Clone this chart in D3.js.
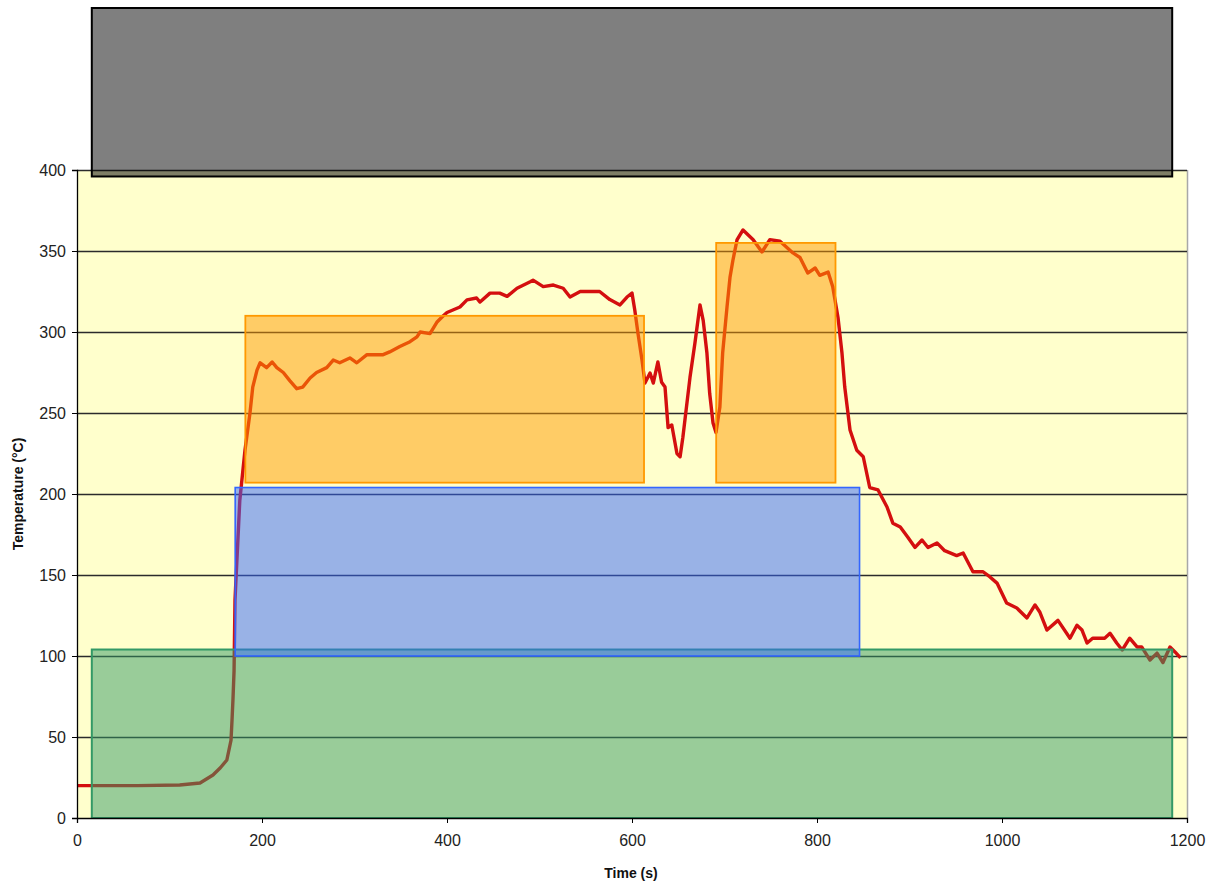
<!DOCTYPE html>
<html>
<head>
<meta charset="utf-8">
<script src="https://cdn.jsdelivr.net/npm/d3@7"></script>
<style>
  html, body { margin: 0; padding: 0; background: #ffffff; }
  svg { display: block; font-family: "Liberation Sans", Arial, sans-serif; }
</style>
</head>
<body>
<svg id="chart" width="1214" height="881"></svg>
<script>
// ---- data ----
const timeS = [0, 65, 111, 133, 147, 155, 162, 166.5, 167.6, 168.6, 169.8, 170.8, 176, 181.6, 187, 190, 194.6, 198, 205, 211, 216, 223, 230, 237.5, 244, 252, 259, 270, 277, 284, 295, 302.5, 313.5, 331, 338, 349, 360, 367.5, 371, 381.6, 389, 396, 400, 414, 421.6, 432, 435.7, 446.5, 457, 465, 475.7, 490, 493, 504, 515, 525.6, 533, 544, 555, 565, 576, 587, 594.6, 600, 603, 606.5, 610.8, 614, 619.5, 623, 628, 632, 635.7, 639, 643, 648.6, 652, 655, 662.7, 668, 673.5, 677, 681, 684, 687.6, 690.8, 695, 698, 702.7, 706, 709, 713.5, 720, 731, 740.5, 749, 760, 774, 781.6, 790, 798, 803, 812, 817, 822.7, 827, 830, 835.7, 843, 850, 857, 866, 875.7, 882, 890, 898, 906, 913.5, 920, 929.7, 938, 951, 958, 968.6, 979.5, 987, 994.6, 1005, 1016, 1027, 1035.7, 1041, 1048.6, 1060.5, 1073.5, 1081, 1086.5, 1092, 1098, 1111, 1116.8, 1124, 1130, 1138, 1146, 1151, 1160, 1167.6, 1174, 1181.6, 1187, 1193];
const tempC = [20, 20, 20.4, 21.6, 26.5, 31, 35.8, 48, 60.5, 73, 91, 134.5, 196, 227, 250, 266, 276.5, 281, 278, 281.5, 278, 275, 270, 265, 266, 271.6, 275, 278, 282.7, 281, 284, 281, 286, 286, 287.7, 291, 294, 297, 300, 299, 306, 310, 312, 315.4, 319.8, 321, 318.5, 324, 324, 322, 327, 331, 332, 328, 329, 327, 321.6, 325, 325, 325, 320, 316.7, 321.6, 324, 313.6, 299, 282.7, 268.5, 274.7, 268.5, 281.5, 269, 266, 241, 242.6, 225, 223, 235, 272, 293, 316.7, 307, 287, 262, 243.8, 238, 253.7, 287, 315.4, 334, 344, 356.8, 363, 357, 349.4, 357, 356, 348.8, 346, 336.4, 339.5, 335, 337, 328, 309, 287, 266, 239.5, 227, 223, 204, 202.5, 192, 182, 179.6, 173.5, 167, 171.6, 167, 169.8, 165, 162, 163.6, 152, 152, 148.8, 145, 132.7, 129.6, 123.5, 131.5, 127, 116, 122, 111, 119, 116, 108, 111, 111, 114, 108, 103.7, 111, 105.6, 105.6, 97.5, 101.8, 96, 105.6, 102.5, 98.8];

// shaded zones (time start, time end, low temp, high temp)
const zoneNames = ["grey", "green", "blue", "orange1", "orange2"];
const zoneStart = [16, 16, 171, 182, 691];
const zoneEnd   = [1184, 1184, 846, 613, 820];
const zoneLow   = [396, 0, 100, 207, 207];
const zoneHigh  = [500, 104, 204, 310, 355];

const xTicks = [0, 200, 400, 600, 800, 1000, 1200];
const yTicks = [0, 50, 100, 150, 200, 250, 300, 350, 400];

// ---- styles ----
const zoneFill   = { grey: "#000000", green: "#339966", blue: "#3366FF", orange1: "#FF9900", orange2: "#FF9900" };
const zoneStroke = { grey: "#000000", green: "#339966", blue: "#3366FF", orange1: "#FF9900", orange2: "#FF9900" };
const zoneStrokeW = { grey: 2, green: 2, blue: 1.6, orange1: 1.8, orange2: 1.8 };

const svg = d3.select("#chart");
const x = d3.scaleLinear().domain([0, 1200]).range([77, 1187]);
const y = d3.scaleLinear().domain([0, 400]).range([818, 170]);

// plot background
svg.append("rect")
  .attr("x", x(0)).attr("y", y(400))
  .attr("width", x(1200) - x(0)).attr("height", y(0) - y(400))
  .attr("fill", "#FFFFCC");

// right border of plot area
svg.append("line")
  .attr("x1", x(1200) + 0.5).attr("x2", x(1200) + 0.5)
  .attr("y1", y(400)).attr("y2", y(0))
  .attr("stroke", "#a8a8a8").attr("stroke-width", 1.5);

// gridlines
svg.append("g").selectAll("line")
  .data(yTicks.filter(d => d > 0))
  .join("line")
  .attr("x1", x(0)).attr("x2", x(1200))
  .attr("y1", d => Math.round(y(d)) + 0.5).attr("y2", d => Math.round(y(d)) + 0.5)
  .attr("stroke", "#2b2b2b").attr("stroke-width", 1.5);

// temperature line
const line = d3.line().x((d, i) => x(timeS[i])).y(d => y(d)).curve(d3.curveLinear);
svg.append("path")
  .datum(tempC)
  .attr("d", line)
  .attr("fill", "none")
  .attr("stroke", "#D40F0F")
  .attr("stroke-width", 3.4)
  .attr("stroke-linejoin", "round");

// zones (semi-transparent overlays)
svg.append("g").selectAll("rect")
  .data(zoneNames)
  .join("rect")
  .attr("x", (d, i) => x(zoneStart[i]))
  .attr("y", (d, i) => y(zoneHigh[i]))
  .attr("width", (d, i) => x(zoneEnd[i]) - x(zoneStart[i]))
  .attr("height", (d, i) => y(zoneLow[i]) - y(zoneHigh[i]))
  .attr("fill", d => zoneFill[d])
  .attr("fill-opacity", 0.5)
  .attr("stroke", d => zoneStroke[d])
  .attr("stroke-width", d => zoneStrokeW[d]);

// axes
const xAxis = d3.axisBottom(x).tickValues(xTicks).tickSize(5).tickPadding(12).tickFormat(d3.format("d"));
const gx = svg.append("g").attr("transform", `translate(0,${y(0)})`).call(xAxis);
gx.select(".domain").attr("stroke", "#000").attr("stroke-width", 1.3);
gx.selectAll(".tick line").attr("stroke", "#000");
gx.selectAll("text").attr("font-size", 16).attr("fill", "#222").attr("font-family", "Liberation Sans, Arial, sans-serif");

const yAxis = d3.axisLeft(y).tickValues(yTicks).tickSize(5).tickPadding(6).tickFormat(d3.format("d"));
const gy = svg.append("g").attr("transform", `translate(${x(0)},0)`).call(yAxis);
gy.select(".domain").attr("stroke", "#000").attr("stroke-width", 1.3);
gy.selectAll(".tick line").attr("stroke", "#000");
gy.selectAll("text").attr("font-size", 16).attr("fill", "#222").attr("font-family", "Liberation Sans, Arial, sans-serif");

// axis titles
svg.append("text")
  .attr("x", 631).attr("y", 878)
  .attr("text-anchor", "middle")
  .attr("font-size", 14).attr("font-weight", "bold").attr("fill", "#111")
  .text("Time (s)");

svg.append("text")
  .attr("transform", "translate(23,494) rotate(-90)")
  .attr("text-anchor", "middle")
  .attr("font-size", 14).attr("font-weight", "bold").attr("fill", "#111")
  .text("Temperature (°C)");
</script>
</body>
</html>
